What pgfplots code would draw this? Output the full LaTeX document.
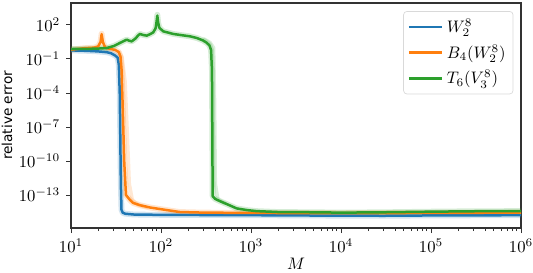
\documentclass[border=0pt]{standalone}
\usepackage{pgfplots}
\pgfplotsset{compat=1.18}
\usepackage{fontspec}
\newfontfamily\dejavu{DejaVu Sans}
\definecolor{tabblue}{HTML}{1F77B4}
\definecolor{taborange}{HTML}{FF7F0E}
\definecolor{tabgreen}{HTML}{2CA02C}
\begin{document}
\begin{tikzpicture}
\begin{axis}[
  scale only axis, width=270pt, height=135pt,
  xmode=log, ymode=log,
  xmin=10, xmax=1e6, ymin=1.23e-16, ymax=8.7e3,
  xtick={10,100,1000,10000,100000,1000000},
  ytick={1e2,1e-1,1e-4,1e-7,1e-10,1e-13},
  yminorticks=false,
  tick pos=left, tick align=outside,
  major tick length=3pt, minor tick length=1.8pt,
  axis line style={black!80, line width=0.8pt},
  every tick/.style={black!80, line width=0.6pt},
  every axis plot/.append style={line join=round, line cap=round},
  xlabel={$M$}, ylabel={relative error},
  xlabel style={at={(axis description cs:0.5,-0.16)}, anchor=center},
  ylabel style={font=\fontsize{8.2}{10}\dejavu, at={(axis description cs:-0.142,0.5)}, anchor=center, rotate=0},
  legend style={at={(0.983,0.964)}, anchor=north east, draw=black!15, rounded corners=2pt, fill=white, row sep=1.8pt, inner sep=2.5pt},
  legend cell align=left,
  legend image code/.code={\draw[#1, line cap=butt] (0pt,0pt) -- (20pt,0pt);},
]
\coordinate (sw) at (rel axis cs:0,0);
\coordinate (ne) at (rel axis cs:1,1);
% faint spread
\addplot[tabblue, line width=3.5pt, opacity=0.2, forget plot] coordinates {
(10,0.575)(15,0.525)(20,0.468)(25,0.398)(28,0.316)(31,0.2)(33,0.13)(34,0.03)(34.8,1e-4)(35.3,1e-8)(35.8,1e-12)(36.4,5e-15)(37.5,2.8e-15)(40,2.24e-15)(50,1.9e-15)(100,1.78e-15)(1000,1.66e-15)(10000,1.51e-15)(30000,1.48e-15)(100000,1.58e-15)(1000000,1.66e-15)};
\addplot[taborange, line width=3.5pt, opacity=0.2, forget plot] coordinates {
(10,0.66)(14,0.89)(18,1.0)(20,1.26)(21.3,3.16)(21.9,17)(22.6,3.16)(24,1.0)(27,0.79)(31,0.63)(34,0.4)(35.5,0.16)(36.5,0.01)(37.8,1e-6)(39,1e-10)(40.8,1e-13)(45.3,3.6e-14)(49,2e-14)(58.5,1.26e-14)(75.7,7.9e-15)(110,5e-15)(162,3.16e-15)(300,2.8e-15)(1000,2.63e-15)(10000,2.5e-15)(100000,2.63e-15)(1000000,2.8e-15)};
\addplot[taborange, line width=2pt, opacity=0.18, forget plot] coordinates {
(34,0.45)(37,0.15)(40,1e-3)(42.5,1e-8)(44.5,1e-12)(48,4e-14)(55,1.4e-14)(70,8e-15)};
\addplot[tabgreen, line width=3.5pt, opacity=0.2, forget plot] coordinates {
(10,0.76)(15,0.78)(20,0.83)(25,0.93)(30,1.41)(35,2.63)(39,3.98)(41.6,5.1)(44,4.2)(47.3,3.6)(52,6.3)(56,12.6)(58.5,16.2)(63,13.2)(69.4,11.5)(76,15.8)(82,22.4)(87,50)(89,158)(91,800)(93,158)(96,56)(106,27.5)(137,16.2)(170,12.6)(210,10)(250,7.1)(290,4.5)(320,2.8)(345,1.6)(360,0.63)(368,0.01)(372,1e-8)(375,7.9e-14)(400,4.5e-14)(470,2.5e-14)(537,1.6e-14)(692,6.6e-15)(900,4.7e-15)(1156,3.8e-15)(2000,3.16e-15)(5000,3e-15)(10000,2.8e-15)(30000,3e-15)(100000,3.4e-15)(300000,3.7e-15)(1000000,3.8e-15)};
\addplot[tabgreen, line width=2pt, opacity=0.18, forget plot] coordinates {
(300,6)(350,3)(385,1)(395,1e-5)(402,1e-12)(430,4e-14)(520,1.8e-14)};
% main lines
\addplot[tabblue, line width=1.5pt] coordinates {
(10,0.575)(15,0.525)(20,0.468)(25,0.398)(28,0.316)(31,0.2)(33,0.13)(34,0.03)(34.8,1e-4)(35.3,1e-8)(35.8,1e-12)(36.4,5e-15)(37.5,2.8e-15)(40,2.24e-15)(50,1.9e-15)(100,1.78e-15)(1000,1.66e-15)(10000,1.51e-15)(30000,1.48e-15)(100000,1.58e-15)(1000000,1.66e-15)};
\addlegendentry{$W_2^8$}
\addplot[taborange, line width=1.5pt] coordinates {
(10,0.66)(14,0.89)(18,1.0)(20,1.26)(21.3,3.16)(21.9,15.8)(22.6,3.16)(24,1.0)(27,0.79)(31,0.63)(34,0.4)(35.5,0.16)(36.5,0.01)(37.8,1e-6)(39,1e-10)(40.8,1e-13)(45.3,3.6e-14)(49,2e-14)(58.5,1.26e-14)(75.7,7.9e-15)(110,5e-15)(162,3.16e-15)(300,2.8e-15)(1000,2.63e-15)(10000,2.5e-15)(100000,2.63e-15)(1000000,2.8e-15)};
\addlegendentry{$B_4(W_2^8)$}
\addplot[tabgreen, line width=1.5pt] coordinates {
(10,0.76)(15,0.78)(20,0.83)(25,0.93)(30,1.41)(35,2.63)(39,3.98)(41.6,5.1)(44,4.2)(47.3,3.6)(52,6.3)(56,12.6)(58.5,16.2)(63,13.2)(69.4,11.5)(76,15.8)(82,22.4)(87,50)(89,158)(91,676)(93,158)(96,56)(106,27.5)(137,16.2)(170,12.6)(210,10)(250,7.1)(290,4.5)(320,2.8)(345,1.6)(360,0.63)(368,0.01)(372,1e-8)(375,7.9e-14)(400,4.5e-14)(470,2.5e-14)(537,1.6e-14)(692,6.6e-15)(900,4.7e-15)(1156,3.8e-15)(2000,3.16e-15)(5000,3e-15)(10000,2.8e-15)(30000,3e-15)(100000,3.4e-15)(300000,3.7e-15)(1000000,3.8e-15)};
\addlegendentry{$T_6(V_3^8)$}
\end{axis}
\pgfresetboundingbox
\useasboundingbox ([xshift=-42.6pt,yshift=-26.4pt]sw) rectangle ([xshift=7.2pt,yshift=1.8pt]ne);
\end{tikzpicture}
\end{document}
